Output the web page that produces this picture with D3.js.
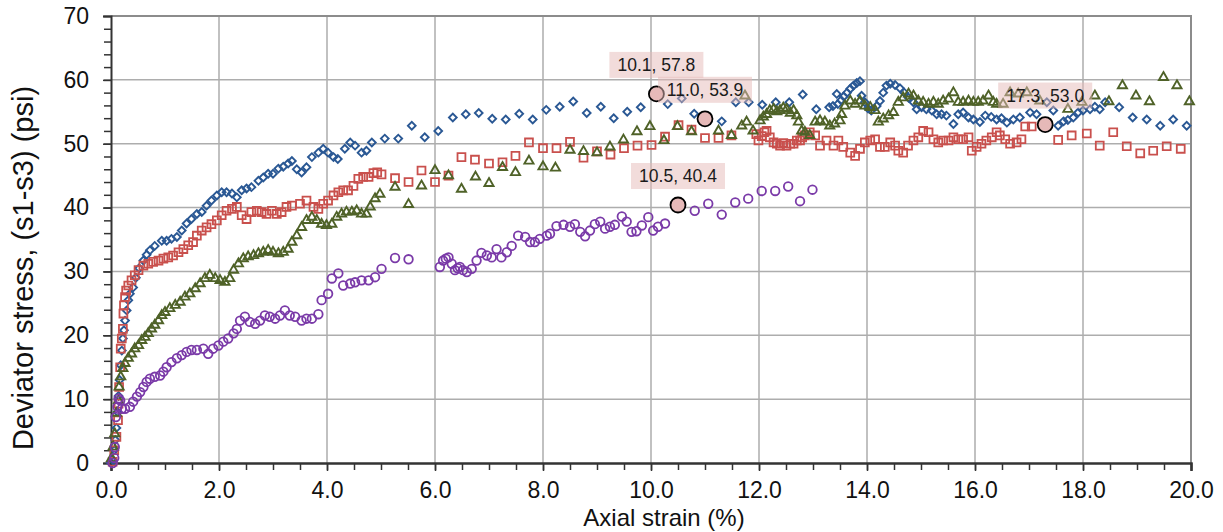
<!DOCTYPE html>
<html lang="en">

<head>
    <meta charset="UTF-8">
    <title>Deviator stress vs axial strain</title>
    <script src="https://d3js.org/d3.v7.min.js"></script>
    <style>
        body {
            margin: 0;
            background-color: #fff;
            font-family: 'Liberation Sans', Arial, sans-serif;
        }

        .axis text {
            font-size: 23px;
            fill: #111;
        }

        .axis line {
            stroke: #333;
            stroke-width: 1.5px;
        }

        .grid line {
            stroke: #adadad;
            stroke-width: 1.5px;
        }
    </style>
</head>

<body>
    <svg id="chart" width="1223" height="532"></svg>
    <script>
        // tick values
        const xTicks = [0, 2, 4, 6, 8, 10, 12, 14, 16, 18, 20];
        const yTicks = [0, 10, 20, 30, 40, 50, 60, 70];

        // series: [axial strain %, deviator stress psi]
        const blueSeries = [
            [0, 0], [0.03, 0.5], [0.06, 2], [0.08, 3.6], [0.1, 5.5], [0.12, 8], [0.14, 10.5], [0.16, 13], [0.18, 15.3],
            [0.2, 17.6], [0.22, 19.5], [0.24, 20.8], [0.26, 22.3], [0.29, 23.9], [0.32, 25.5], [0.35, 26.5], [0.41, 27.5],
            [0.46, 29], [0.52, 30.5], [0.6, 31.7], [0.66, 32.6], [0.72, 33.3], [0.81, 34], [0.94, 34.8], [1.03, 34.8],
            [1.12, 35.1], [1.22, 35.4], [1.31, 36.4], [1.4, 37.5], [1.49, 38.2], [1.59, 39], [1.68, 39.3], [1.77, 40.3],
            [1.86, 41.1], [1.96, 41.9], [2.05, 42.4], [2.14, 42.4], [2.24, 42.2], [2.33, 41.6], [2.42, 42.7], [2.51, 43],
            [2.6, 43.2], [2.73, 44.2], [2.82, 44.7], [2.91, 45.3], [3.0, 45.3], [3.1, 46.1], [3.19, 46.4], [3.28, 46.9],
            [3.35, 47.3], [3.44, 46], [3.53, 45.5], [3.62, 46.3], [3.72, 47.9], [3.84, 48.6], [3.93, 49.2], [4.02, 48.6],
            [4.12, 47.9], [4.2, 47.6], [4.33, 49.2], [4.43, 50.2], [4.52, 49.7], [4.64, 48.6], [4.73, 48.9], [4.83, 50.2],
            [5.07, 50.8], [5.32, 50.8], [5.57, 52.8], [5.81, 51], [6.06, 52], [6.33, 54.1], [6.57, 54.6], [6.81, 54.8],
            [7.06, 53.9], [7.31, 53.8], [7.56, 54.7], [7.81, 53.8], [8.06, 55.3], [8.31, 55.8], [8.56, 56.6], [8.81, 54.8],
            [9.07, 55.8], [9.31, 54], [9.56, 55], [9.81, 55.7], [10.06, 57.5], [10.31, 56.2], [10.57, 57.1], [10.8, 54.7],
            [11.05, 53.9], [11.31, 53.5], [11.57, 56.5], [11.81, 56.5], [12.06, 56.1], [12.31, 56.5], [12.56, 56.5],
            [12.81, 57.7], [13.06, 55.4], [13.3, 55.7], [13.37, 55.9], [13.44, 57.8], [13.46, 56.2], [13.52, 56.8],
            [13.57, 57.4], [13.63, 58], [13.69, 58.6], [13.75, 59.1], [13.81, 59.5], [13.87, 59.8], [13.9, 57.5],
            [13.96, 56.5], [14.02, 55.5], [14.08, 55.2], [14.18, 55.9], [14.24, 56.7], [14.3, 58], [14.36, 59.1],
            [14.43, 59.4], [14.52, 59.2], [14.61, 58.7], [14.69, 58], [14.77, 57.2], [14.86, 56.5], [14.92, 55.4],
            [15.01, 55.7], [15.1, 55.4], [15.2, 55.2], [15.29, 54.6], [15.38, 54.6], [15.47, 54.4], [15.6, 53.1],
            [15.69, 54.6], [15.78, 54.9], [15.88, 54.1], [15.97, 53.8], [16.09, 53.4], [16.19, 54.4], [16.3, 54.2],
            [16.4, 53.8], [16.49, 54], [16.59, 53.3], [16.71, 53.8], [16.83, 54.1], [17.02, 54.9], [17.14, 54.6],
            [17.33, 56.5], [17.45, 55.2], [17.54, 52.8], [17.64, 53.5], [17.72, 53.7], [17.82, 54.1], [17.91, 54.9],
            [18.0, 55.2], [18.13, 55.4], [18.22, 55.8], [18.31, 55.4], [18.41, 56.5], [18.67, 55.7], [18.92, 54.1],
            [19.18, 53.8], [19.43, 52.8], [19.67, 53.8], [19.92, 52.8]
        ];

        const redSeries = [
            [0.03, 0.2], [0.06, 2], [0.1, 4.1], [0.13, 6.7], [0.14, 9.3], [0.15, 11.9], [0.17, 15], [0.18, 17.9],
            [0.2, 19.5], [0.22, 21], [0.23, 23.4], [0.24, 24.7], [0.26, 26], [0.28, 27], [0.32, 27.8], [0.38, 28.6],
            [0.44, 29.4], [0.51, 30.2], [0.6, 30.9], [0.69, 31.2], [0.78, 31.5], [0.88, 31.7], [0.97, 32], [1.06, 32.2],
            [1.15, 32.5], [1.25, 33], [1.34, 33.5], [1.43, 34.1], [1.52, 34.6], [1.59, 35.6], [1.68, 36.4], [1.77, 36.9],
            [1.86, 37.4], [1.96, 38], [2.05, 38.8], [2.14, 39.5], [2.24, 39.8], [2.33, 40.1], [2.42, 38.8], [2.51, 38.2],
            [2.6, 39.3], [2.7, 39.5], [2.79, 39.3], [2.88, 39], [2.98, 39.5], [3.07, 39], [3.16, 39.3], [3.25, 40.1],
            [3.35, 40.3], [3.5, 40.6], [3.62, 41.1], [3.75, 40.1], [3.84, 39.8], [3.93, 40.6], [4.02, 41.1], [4.12, 41.9],
            [4.21, 42.4], [4.3, 42.7], [4.39, 42.7], [4.49, 43.4], [4.58, 44.5], [4.67, 44.8], [4.77, 44.8], [4.86, 45.4],
            [4.93, 45.5], [5.01, 45.2], [5.26, 44.6], [5.51, 44], [5.75, 45.8], [6.0, 44], [6.25, 45], [6.49, 47.9],
            [6.74, 47.5], [7.0, 46.9], [7.25, 47.1], [7.49, 48.1], [7.74, 50.2], [8.0, 49.3], [8.25, 49.3], [8.5, 50.3],
            [8.75, 47.8], [9.0, 48.8], [9.25, 48.3], [9.5, 49.3], [9.75, 49.7], [10.01, 49.8], [10.26, 51.1], [10.51, 52.9],
            [10.75, 52.2], [11.0, 50.9], [11.25, 50.9], [11.49, 51.3], [11.95, 51.5], [11.99, 50.5], [12.05, 51.2],
            [12.1, 51.8], [12.14, 52], [12.2, 51], [12.27, 50.2], [12.33, 50], [12.39, 49.7], [12.45, 50.1], [12.51, 49.7],
            [12.58, 50], [12.64, 50], [12.7, 50.5], [12.76, 50.5], [12.8, 51], [12.85, 51.3], [12.94, 51.8], [13.04, 51.3],
            [13.13, 49.7], [13.25, 50.5], [13.38, 49.7], [13.47, 50.5], [13.56, 49.5], [13.69, 48.6], [13.78, 48.1],
            [13.87, 49.2], [13.96, 50.2], [14.06, 50.5], [14.15, 50.7], [14.24, 49.5], [14.33, 49.5], [14.43, 50.2],
            [14.52, 49.7], [14.58, 48.9], [14.67, 48.6], [14.76, 49.7], [14.86, 50.5], [14.95, 51], [15.04, 52],
            [15.14, 51.8], [15.23, 50.7], [15.32, 50.2], [15.41, 50.5], [15.51, 50.5], [15.6, 51], [15.69, 50.7],
            [15.78, 50.7], [15.88, 51], [15.94, 48.9], [16.03, 49.5], [16.12, 50], [16.21, 50.5], [16.31, 51], [16.4, 51.8],
            [16.46, 51.3], [16.56, 50.7], [16.65, 50], [16.77, 50.2], [16.86, 50.7], [16.93, 52.7], [17.05, 52.7],
            [17.54, 50.6], [17.79, 51.3], [18.07, 51.6], [18.31, 49.7], [18.56, 51.8], [18.81, 49.6], [19.06, 48.5],
            [19.3, 48.9], [19.55, 49.6], [19.81, 49.2]
        ];

        const greenSeries = [
            [0.01, 0.7], [0.04, 2.5], [0.07, 4.6], [0.1, 7.8], [0.14, 9.8], [0.15, 11.9], [0.18, 13.5], [0.22, 14.8],
            [0.26, 15.6], [0.32, 16.4], [0.38, 17.1], [0.44, 17.9], [0.51, 18.4], [0.57, 19.2], [0.63, 19.7], [0.69, 20.3],
            [0.75, 21], [0.81, 21.6], [0.88, 22.3], [0.94, 23.1], [1.0, 23.6], [1.09, 24.2], [1.19, 24.7], [1.28, 25.2],
            [1.37, 26], [1.46, 26.5], [1.56, 27.3], [1.65, 28.1], [1.74, 28.9], [1.83, 29.4], [1.93, 28.9], [2.02, 28.6],
            [2.11, 28.3], [2.2, 28.9], [2.27, 30.2], [2.36, 31.2], [2.45, 32], [2.54, 32.3], [2.64, 32.5], [2.73, 32.8],
            [2.82, 33], [2.91, 33.3], [3.0, 33], [3.1, 32.8], [3.19, 33], [3.28, 33.5], [3.35, 34.6], [3.44, 35.6],
            [3.53, 36.9], [3.62, 38], [3.72, 38.5], [3.81, 38], [3.9, 37.4], [3.99, 37.2], [4.09, 37.4], [4.18, 38.5],
            [4.27, 39], [4.36, 39.3], [4.46, 39.3], [4.55, 39.5], [4.64, 39], [4.73, 39], [4.8, 40.1], [4.89, 41.4],
            [4.98, 42.1], [5.26, 43.2], [5.51, 40.5], [5.75, 43.4], [6.0, 45.8], [6.25, 45], [6.49, 42.9], [6.75, 44.8],
            [7.0, 43.8], [7.25, 46.3], [7.49, 45.5], [7.74, 47.3], [8.0, 46.4], [8.23, 46.2], [8.5, 49], [8.75, 48.8],
            [9.0, 48.6], [9.24, 49.5], [9.49, 50.6], [9.74, 51.9], [9.98, 52.7], [10.24, 50.5], [10.49, 52.7],
            [10.75, 51.9], [11.25, 52], [11.49, 51.3], [11.68, 52.8], [11.74, 57.5], [11.77, 53.4], [11.89, 52],
            [12.02, 53.6], [12.08, 54.2], [12.14, 54.6], [12.2, 55.2], [12.27, 55.4], [12.33, 55], [12.39, 55.2],
            [12.45, 55.6], [12.51, 55.4], [12.58, 54.8], [12.64, 55.2], [12.7, 54.4], [12.73, 53.4], [12.79, 52],
            [12.85, 51.8], [12.94, 51.3], [13.04, 53.4], [13.13, 53.6], [13.22, 53.4], [13.31, 52.8], [13.4, 53.1],
            [13.5, 53.6], [13.53, 54.6], [13.59, 55.9], [13.69, 56.7], [13.78, 56.2], [13.87, 56.7], [13.96, 55.9],
            [14.06, 55.7], [14.15, 55.2], [14.21, 53.4], [14.3, 53.9], [14.4, 54.4], [14.49, 54.9], [14.58, 56.5],
            [14.67, 57.2], [14.77, 57.8], [14.86, 57.5], [14.95, 56.7], [15.04, 56.5], [15.14, 56.2], [15.23, 56.5],
            [15.32, 56.2], [15.41, 56.7], [15.51, 57], [15.6, 58], [15.69, 56.5], [15.78, 56.5], [15.88, 56.7],
            [15.97, 56.5], [16.06, 56.5], [16.15, 56.7], [16.25, 57.5], [16.34, 56.5], [16.4, 56.2], [16.52, 56.2],
            [16.65, 58], [16.8, 57.8], [16.96, 58], [17.2, 56.7], [17.72, 55.4], [17.98, 56.5], [18.22, 57.5],
            [18.48, 56.6], [18.73, 59.1], [18.98, 57.5], [19.23, 56.6], [19.49, 60.4], [19.74, 59.1], [19.97, 56.6]
        ];

        const purpleSeries = [
            [0.03, 0], [0.06, 0.8], [0.07, 2.5], [0.09, 7.2], [0.12, 8.8], [0.14, 10.1], [0.17, 9.8], [0.2, 8.5],
            [0.26, 8.5], [0.35, 8.8], [0.41, 9.6], [0.48, 10.4], [0.54, 11.1], [0.6, 11.9], [0.66, 12.7], [0.72, 13.2],
            [0.81, 13.5], [0.91, 13.7], [0.97, 14.3], [1.03, 15], [1.12, 15.8], [1.22, 16.4], [1.31, 16.9], [1.4, 17.4],
            [1.49, 17.7], [1.59, 17.7], [1.71, 17.9], [1.8, 17.1], [1.89, 17.9], [1.99, 18.4], [2.08, 19], [2.17, 19.5],
            [2.27, 20.3], [2.33, 21], [2.39, 22.3], [2.48, 22.9], [2.57, 22.1], [2.67, 21.8], [2.76, 22.3], [2.85, 23.1],
            [2.94, 22.9], [3.04, 22.6], [3.13, 23.1], [3.22, 23.9], [3.31, 23.1], [3.41, 22.9], [3.53, 22.3], [3.62, 22.6],
            [3.72, 22.6], [3.84, 23.3], [3.9, 25.5], [4.02, 26.5], [4.09, 28.9], [4.21, 29.7], [4.3, 27.8], [4.43, 28.1],
            [4.52, 28.3], [4.64, 28.6], [4.77, 28.6], [4.89, 29.1], [5.01, 30.4], [5.26, 32.1], [5.51, 31.9], [6.09, 30.7],
            [6.15, 31.7], [6.2, 32], [6.25, 32.2], [6.31, 31.2], [6.37, 30.2], [6.42, 30.5], [6.46, 30.7], [6.52, 30.2],
            [6.59, 29.9], [6.68, 30.4], [6.77, 31.7], [6.86, 32.9], [6.96, 32.5], [7.05, 32.2], [7.14, 33.5], [7.23, 32.2],
            [7.33, 33], [7.42, 34], [7.54, 35.6], [7.67, 35.4], [7.76, 34.6], [7.85, 34.6], [7.94, 35.1], [8.07, 35.6],
            [8.13, 35.9], [8.25, 37.1], [8.38, 37.3], [8.5, 37], [8.59, 37.4], [8.69, 36.2], [8.78, 35.5], [8.87, 36.4],
            [8.96, 37.4], [9.06, 37.8], [9.15, 36.7], [9.24, 37], [9.33, 37.3], [9.46, 38.6], [9.55, 37.8], [9.64, 36.2],
            [9.73, 36.3], [9.83, 37.2], [9.95, 38.5], [10.04, 36.4], [10.13, 37], [10.26, 37.5], [10.5, 40.4],
            [10.81, 39.5], [11.06, 40.6], [11.31, 38.9], [11.56, 40.8], [11.8, 41.4], [12.05, 42.6], [12.3, 42.6],
            [12.54, 43.3], [12.76, 41], [12.99, 42.8]
        ];

        // highlighted points with their labels
        const calloutPoints = [[10.1, 57.8], [11.0, 53.9], [10.5, 40.4], [17.3, 53.0]];
        const calloutLabels = ["10.1, 57.8", "11.0, 53.9", "10.5, 40.4", "17.3, 53.0"];

        const svg = d3.select("#chart");
        const plotLeft = 111, plotRight = 1191, plotTop = 16, plotBottom = 463;

        const x = d3.scaleLinear().domain([0, 20]).range([plotLeft, plotRight]);
        const y = d3.scaleLinear().domain([0, 70]).range([plotBottom, plotTop]);

        // grid
        svg.append("g").attr("class", "grid")
            .selectAll("line")
            .data(xTicks.filter(d => d > 0 && d < 20))
            .join("line")
            .attr("x1", d => x(d)).attr("x2", d => x(d))
            .attr("y1", plotTop).attr("y2", plotBottom);

        svg.append("g").attr("class", "grid")
            .selectAll("line")
            .data(yTicks.filter(d => d > 0 && d < 70))
            .join("line")
            .attr("x1", plotLeft).attr("x2", plotRight)
            .attr("y1", d => y(d)).attr("y2", d => y(d));

        // top and right border
        svg.append("path")
            .attr("d", `M${plotLeft},${plotTop}H${plotRight}V${plotBottom}`)
            .attr("fill", "none")
            .attr("stroke", "#8c8c8c")
            .attr("stroke-width", 2);

        // minor ticks
        svg.append("g")
            .attr("class", "axis")
            .attr("transform", `translate(0,${plotBottom})`)
            .call(d3.axisBottom(x).tickValues(d3.range(0, 20.01, 0.5)).tickSize(7).tickFormat(""))
            .call(g => g.select(".domain").remove());

        svg.append("g")
            .attr("class", "axis")
            .attr("transform", `translate(${plotLeft},0)`)
            .call(d3.axisLeft(y).tickValues(d3.range(0, 70.01, 2)).tickSize(7).tickFormat(""))
            .call(g => g.select(".domain").remove());

        // major axes
        svg.append("g")
            .attr("class", "axis")
            .attr("transform", `translate(0,${plotBottom})`)
            .call(d3.axisBottom(x).tickValues(xTicks).tickSize(8).tickPadding(11).tickFormat(d3.format(".1f")))
            .call(g => g.select(".domain").attr("stroke", "#333").attr("stroke-width", 2.5));

        svg.append("g")
            .attr("class", "axis")
            .attr("transform", `translate(${plotLeft},0)`)
            .call(d3.axisLeft(y).tickValues(yTicks).tickSize(8).tickPadding(14))
            .call(g => g.select(".domain").attr("stroke", "#333").attr("stroke-width", 2));

        svg.selectAll(".axis text").attr("font-family", "'Liberation Sans', Arial, sans-serif");

        // axis titles
        svg.append("text")
            .attr("x", 664)
            .attr("y", 526)
            .attr("text-anchor", "middle")
            .attr("font-size", 24)
            .attr("fill", "#111")
            .text("Axial strain (%)");

        svg.append("text")
            .attr("transform", "translate(33,268) rotate(-90)")
            .attr("text-anchor", "middle")
            .attr("font-size", 29)
            .attr("fill", "#111")
            .text("Deviator stress, (s1-s3) (psi)");

        // markers
        const plot = svg.append("g");

        plot.append("g").selectAll("path")
            .data(blueSeries)
            .join("path")
            .attr("d", d3.symbol(d3.symbolSquare, 30))
            .attr("transform", d => `translate(${x(d[0])},${y(d[1])}) rotate(45)`)
            .attr("fill", "none")
            .attr("stroke", "#2a5894")
            .attr("stroke-width", 1.9);

        plot.append("g").selectAll("path")
            .data(redSeries)
            .join("path")
            .attr("d", d3.symbol(d3.symbolSquare, 62))
            .attr("transform", d => `translate(${x(d[0])},${y(d[1])})`)
            .attr("fill", "none")
            .attr("stroke", "#c9504d")
            .attr("stroke-width", 1.8);

        plot.append("g").selectAll("path")
            .data(greenSeries)
            .join("path")
            .attr("d", d3.symbol(d3.symbolTriangle, 36))
            .attr("transform", d => `translate(${x(d[0])},${y(d[1])})`)
            .attr("fill", "none")
            .attr("stroke", "#4f6228")
            .attr("stroke-width", 1.9);

        plot.append("g").selectAll("circle")
            .data(purpleSeries)
            .join("circle")
            .attr("cx", d => x(d[0]))
            .attr("cy", d => y(d[1]))
            .attr("r", 4.3)
            .attr("fill", "none")
            .attr("stroke", "#7a3aa8")
            .attr("stroke-width", 1.8);

        // callouts
        const callouts = svg.append("g");

        callouts.selectAll("circle")
            .data(calloutPoints)
            .join("circle")
            .attr("cx", d => x(d[0]))
            .attr("cy", d => y(d[1]))
            .attr("r", 7.5)
            .attr("fill", "#e6b9b8")
            .attr("stroke", "#000")
            .attr("stroke-width", 1.8);

        const boxes = callouts.selectAll("g.label")
            .data(calloutPoints)
            .join("g")
            .attr("class", "label")
            .attr("transform", d => `translate(${x(d[0])},${y(d[1]) - 29})`);

        boxes.append("rect")
            .attr("x", -47).attr("y", -13)
            .attr("width", 94).attr("height", 26)
            .attr("fill", "#e6b9b8")
            .attr("opacity", 0.5);

        boxes.append("text")
            .attr("text-anchor", "middle")
            .attr("dy", "0.35em")
            .attr("font-size", 17.5)
            .attr("fill", "#1a1a1a")
            .text((d, i) => calloutLabels[i]);
    </script>
</body>

</html>
